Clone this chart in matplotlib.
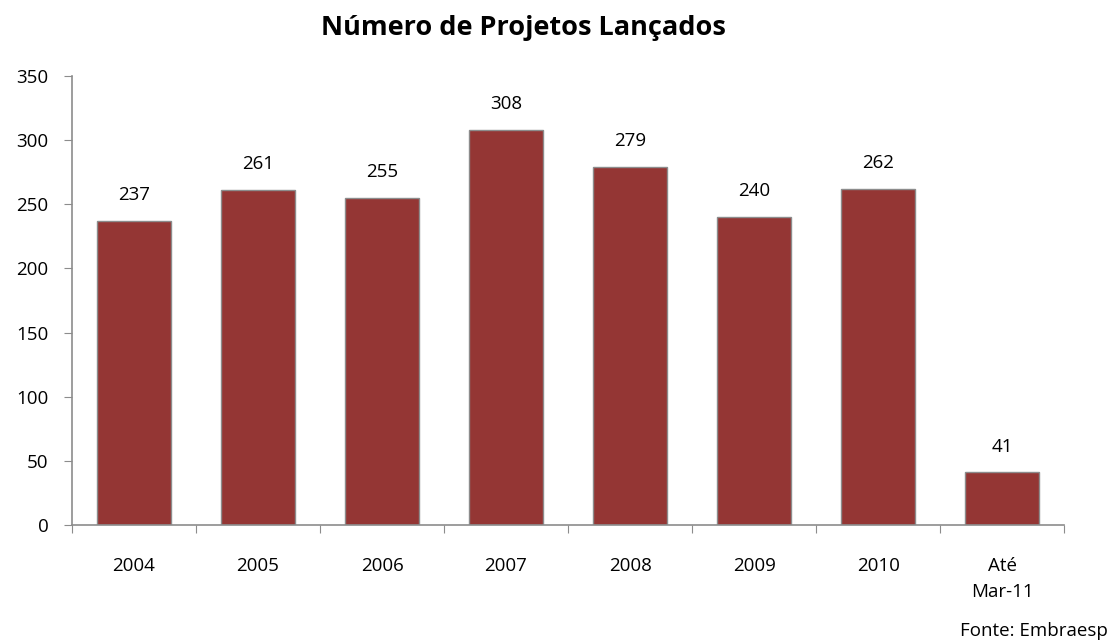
import matplotlib
matplotlib.use('Agg')
import matplotlib.pyplot as plt
import numpy as np

categories = ['2004', '2005', '2006', '2007', '2008', '2009', '2010', 'Até\nMar-11']
values = [237, 261, 255, 308, 279, 240, 262, 41]
yticks = [0, 50, 100, 150, 200, 250, 300, 350]

plt.rcParams['font.family'] = ['Open Sans', 'DejaVu Sans']

fig = plt.figure(figsize=(11.19, 6.43), dpi=100)
ax = fig.add_axes([0.0643, 0.1835, 0.8867, 0.6985])

x = np.arange(len(categories))
ax.bar(x, values, width=0.6, color='#943634', edgecolor='#8c8c8c', linewidth=1.0, zorder=2)

for xi, v in zip(x, values):
    ax.text(xi, v + 13, str(v), ha='center', va='bottom', fontsize=13.5, color='black')

ax.set_xlim(-0.5, len(categories) - 0.5)
ax.set_ylim(0, 350)
ax.set_yticks(yticks)
ax.set_yticklabels([str(t) for t in yticks], fontsize=13.5)

# category names at centres, ticks at boundaries
ax.set_xticks(np.arange(len(categories) + 1) - 0.5)
ax.set_xticklabels([])
ax.set_xticks(x, minor=True)
ax.set_xticklabels(categories, minor=True, fontsize=13.5, linespacing=1.6, va='top')
ax.tick_params(axis='x', which='minor', length=0, pad=23)
ax.tick_params(axis='x', which='major', length=6, color='#8c8c8c', direction='out')
ax.tick_params(axis='y', length=6, color='#8c8c8c', direction='out', pad=11)

for side in ['top', 'right']:
    ax.spines[side].set_visible(False)
for side in ['left', 'bottom']:
    ax.spines[side].set_color('#8c8c8c')
    ax.spines[side].set_linewidth(1.2)

fig.text(0.468, 1 - 35 / 643, 'Número de Projetos Lançados', ha='center', va='baseline',
         fontsize=19.5, fontweight='bold')
fig.text(1108 / 1119, 1 - 636 / 643, 'Fonte: Embraesp', ha='right', va='baseline', fontsize=13.5)

plt.savefig('out.png', dpi=100)
